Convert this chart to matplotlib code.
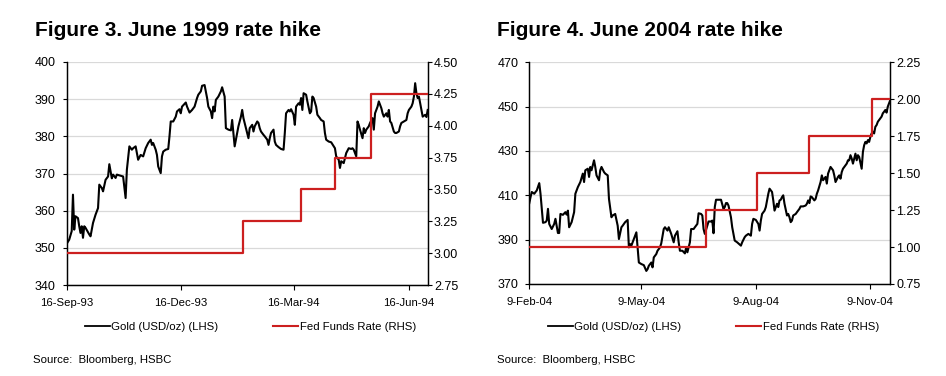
import numpy as np
import pandas as pd
import matplotlib
matplotlib.use('Agg')
import matplotlib.pyplot as plt
from matplotlib.lines import Line2D

plt.rcParams['font.family'] = ['Liberation Sans', 'DejaVu Sans']

# ---- Figure 3: June 1999 rate hike (1993/94 episode) ----
start93 = "1993-09-16"
end93 = "1994-07-01"
gold93_days = [0, 2, 4, 5, 6, 7, 9, 10, 11, 12, 13, 14, 15, 18, 19, 21, 23, 25, 26, 28,
               29, 31, 33, 34, 36, 37, 39, 40, 43, 45, 47, 48, 50, 52, 53, 55, 57, 59, 61, 63,
               65, 67, 68, 69, 71, 72, 73, 75, 76, 77, 79, 81, 82, 83, 85, 87, 88, 90, 91, 92,
               95, 96, 98, 100, 102, 104, 105, 107, 108, 110, 112, 113, 115, 116, 117, 118, 119, 121, 123, 124,
               126, 127, 129, 131, 132, 134, 135, 137, 139, 140, 141, 145, 146, 148, 149, 150, 152, 153, 154, 155,
               157, 158, 160, 161, 162, 163, 165, 166, 167, 169, 171, 173, 174, 175, 177, 178, 179, 181, 182, 183,
               185, 186, 187, 188, 189, 191, 192, 194, 195, 196, 197, 199, 200, 202, 203, 205, 206, 207, 209, 211,
               213, 214, 215, 217, 218, 219, 221, 222, 223, 225, 227, 228, 229, 231, 232, 233, 234, 236, 237, 238,
               239, 241, 242, 244, 245, 246, 248, 249, 251, 252, 253, 255, 256, 257, 258, 259, 261, 262, 263, 265,
               266, 267, 269, 271, 272, 273, 275, 276, 277, 278, 279, 280, 281, 282, 283, 284, 286, 287, 288]
gold93_vals = [351.1, 352.2, 354.5, 364.3, 354.9, 358.5, 358.0, 355.8, 354.0, 355.8, 352.7, 355.8, 355.4, 353.6, 353.1, 356.7, 358.9, 360.7, 367.0, 366.1,
               365.2, 368.3, 369.2, 372.5, 368.7, 369.7, 368.8, 369.7, 369.4, 369.2, 363.4, 371.0, 377.3, 376.4, 376.8, 377.3, 373.7, 375.0, 374.6, 376.8,
               378.2, 379.1, 377.7, 378.2, 376.4, 375.0, 371.9, 370.1, 374.6, 375.9, 376.4, 376.6, 380.0, 384.0, 384.0, 385.3, 386.7, 387.3, 386.2, 388.0,
               389.1, 388.0, 386.4, 387.1, 388.0, 390.3, 391.2, 392.1, 393.6, 393.8, 390.3, 388.0, 386.7, 384.9, 388.0, 386.7, 389.8, 390.7, 392.1, 393.2,
               390.7, 382.2, 381.8, 381.6, 384.4, 377.3, 379.1, 382.7, 385.3, 387.1, 384.9, 379.5, 382.2, 383.1, 381.3, 382.7, 384.0, 383.6, 382.2, 381.3,
               380.4, 380.0, 379.1, 377.7, 379.5, 380.9, 381.8, 378.6, 377.7, 377.1, 376.6, 376.4, 380.9, 386.2, 387.1, 386.7, 387.3, 385.8, 383.1, 388.0,
               388.9, 388.5, 390.3, 387.1, 391.6, 391.2, 389.4, 386.2, 386.7, 390.7, 390.3, 388.0, 385.8, 384.9, 384.4, 384.0, 380.9, 379.1, 378.6, 378.4,
               377.3, 376.8, 374.6, 373.7, 371.5, 373.3, 372.8, 374.2, 375.5, 376.8, 376.6, 376.8, 376.4, 374.6, 384.0, 383.1, 381.8, 379.5, 382.2, 380.9,
               381.8, 382.7, 383.6, 384.9, 381.8, 386.2, 388.0, 389.4, 387.6, 386.2, 385.3, 386.2, 385.3, 387.1, 384.0, 383.6, 381.3, 380.9, 380.9, 381.3,
               382.7, 383.6, 384.0, 384.4, 386.2, 387.1, 388.0, 388.9, 390.7, 394.3, 391.6, 390.3, 390.7, 388.9, 387.1, 385.3, 385.8, 385.2, 387.1]
fed93_dates = ["1993-09-16", "1994-02-04", "1994-03-22", "1994-04-18", "1994-05-17", "1994-07-01"]
fed93_rates = [3.00, 3.25, 3.50, 3.75, 4.25, 4.25]
xticks93 = ["1993-09-16", "1993-12-16", "1994-03-16", "1994-06-16"]

# ---- Figure 4: June 2004 rate hike ----
start04 = "2004-02-09"
end04 = "2004-11-25"
gold04_days = [0, 1, 2, 4, 5, 6, 8, 9, 11, 13, 14, 15, 16, 18, 20, 21, 23, 24, 25, 27,
               29, 30, 31, 32, 34, 36, 37, 39, 41, 43, 44, 45, 47, 48, 49, 50, 52, 53, 54, 56,
               57, 58, 60, 61, 63, 64, 66, 67, 69, 71, 72, 74, 75, 77, 79, 80, 81, 82, 84, 86,
               87, 88, 90, 92, 94, 95, 96, 98, 99, 100, 102, 103, 105, 106, 108, 109, 111, 112, 114, 116,
               117, 119, 120, 121, 123, 125, 126, 127, 129, 130, 132, 133, 135, 136, 138, 139, 140, 141, 143, 144,
               146, 147, 148, 149, 150, 152, 154, 155, 156, 157, 158, 159, 160, 162, 163, 164, 165, 167, 168, 170,
               171, 173, 174, 176, 178, 179, 180, 182, 184, 185, 186, 187, 189, 190, 191, 192, 193, 195, 196, 197,
               199, 200, 201, 202, 203, 204, 205, 207, 208, 209, 210, 211, 212, 214, 215, 217, 218, 220, 222, 223,
               224, 225, 226, 227, 229, 230, 231, 232, 234, 235, 236, 238, 239, 240, 241, 242, 244, 245, 246, 247,
               248, 249, 250, 251, 252, 254, 255, 256, 257, 258, 259, 260, 261, 262, 263, 264, 265, 267, 268, 269,
               270, 271, 272, 273, 274, 275, 276, 277, 278, 279, 280, 282, 283, 284, 285, 286, 287, 288, 289, 290]
gold04_vals = [406.5, 409.2, 411.5, 410.7, 411.5, 412.2, 415.5, 410.7, 397.6, 397.9, 398.6, 403.9, 397.1, 394.8, 397.1, 399.4, 393.0, 393.0, 401.6, 401.2,
               402.4, 401.3, 403.1, 395.6, 397.9, 402.4, 410.7, 413.7, 416.0, 419.8, 416.0, 421.3, 422.0, 418.3, 422.8, 421.3, 425.8, 422.8, 419.0, 416.8,
               421.3, 422.8, 420.5, 419.8, 419.0, 408.4, 400.1, 400.9, 401.6, 396.3, 390.3, 395.6, 396.3, 397.9, 398.9, 386.5, 388.0, 387.3, 390.3, 393.3,
               386.5, 379.7, 379.0, 378.5, 375.9, 376.7, 378.2, 379.7, 377.5, 382.0, 383.5, 385.0, 386.5, 388.3, 394.8, 395.6, 394.1, 395.6, 392.6, 388.8,
               391.8, 393.8, 388.8, 385.0, 385.0, 383.8, 386.5, 384.3, 388.8, 394.8, 394.8, 395.6, 397.1, 401.9, 401.6, 400.9, 394.8, 392.6, 396.3, 398.2,
               398.2, 398.6, 392.9, 404.7, 408.0, 408.0, 408.0, 405.9, 403.9, 404.7, 406.5, 406.5, 405.4, 400.1, 395.6, 392.6, 389.6, 388.8, 388.3, 387.3,
               388.8, 391.1, 391.8, 392.6, 391.8, 397.1, 399.4, 398.9, 397.1, 394.1, 398.6, 401.6, 403.1, 404.7, 407.7, 410.7, 413.0, 411.5, 407.7, 403.1,
               406.2, 404.7, 407.7, 408.0, 409.2, 410.0, 406.2, 400.9, 401.6, 400.1, 397.9, 398.6, 400.9, 401.6, 402.4, 403.9, 405.0, 405.0, 405.4, 406.2,
               407.7, 406.5, 409.5, 409.2, 407.7, 408.4, 410.7, 412.2, 416.0, 419.0, 416.8, 418.3, 415.3, 419.8, 421.3, 422.8, 421.3, 419.0, 416.0, 417.1,
               418.3, 419.0, 417.5, 420.5, 422.0, 423.5, 424.3, 425.8, 425.8, 428.1, 426.6, 424.3, 426.6, 428.8, 425.8, 428.1, 427.3, 422.0, 429.6, 432.6,
               434.1, 433.4, 434.9, 434.1, 436.4, 437.9, 438.7, 437.9, 440.9, 441.7, 443.2, 444.7, 445.5, 447.0, 447.7, 448.5, 447.3, 450.0, 451.5, 453.0]
fed04_dates = ["2004-02-09", "2004-06-30", "2004-08-10", "2004-09-21", "2004-11-10", "2004-11-25"]
fed04_rates = [1.00, 1.25, 1.50, 1.75, 2.00, 2.00]
xticks04 = ["2004-02-09", "2004-05-09", "2004-08-09", "2004-11-09"]

BLACK = "#000000"
RED = "#cc1f1f"
GRID = "#d9d9d9"
FS = 8.2

fig = plt.figure(figsize=(9.46, 3.76), dpi=100)


def panel(rect, title, title_x, start, end, gdays, gvals, fdates, frates, xticks,
          ylim, yticks, y2lim, y2ticks, y2fmt, leg_x, src_x):
    ax = fig.add_axes(rect)
    dates = pd.Timestamp(start) + pd.to_timedelta(gdays, unit="D")
    ax.plot(dates, gvals, color=BLACK, lw=1.5, zorder=3)
    ax.set_xlim(pd.Timestamp(start), pd.Timestamp(end))
    ax.set_ylim(*ylim)
    ax.set_yticks(yticks)
    ax.yaxis.grid(True, color=GRID, lw=0.9)
    ax.set_axisbelow(True)
    tdates = [pd.Timestamp(t) for t in xticks]
    ax.set_xticks(tdates)
    ax.set_xticklabels([f"{t.day}-{t:%b-%y}" for t in tdates])
    ax.spines['top'].set_visible(False)
    ax.tick_params(axis='y', direction='out', length=3, width=0.8, pad=5, labelsize=9)
    ax.tick_params(axis='x', direction='out', length=3.5, width=0.8, pad=6, labelsize=FS)

    ax2 = ax.twinx()
    ax2.step(pd.to_datetime(fdates), frates, where='post', color=RED, lw=1.6, zorder=4)
    ax2.set_ylim(*y2lim)
    ax2.set_yticks(y2ticks)
    ax2.set_yticklabels([y2fmt.format(v) for v in y2ticks])
    ax2.spines['top'].set_visible(False)
    ax2.tick_params(axis='y', direction='out', length=3, width=0.8, pad=1.5, labelsize=9)
    for a in (ax, ax2):
        for s in a.spines.values():
            s.set_linewidth(0.9)

    fig.text(title_x, 1 - 31 / 376, title, fontsize=15, fontweight='bold', va='center', ha='left')
    handles = [Line2D([], [], color=BLACK, lw=1.3), Line2D([], [], color=RED, lw=1.5)]
    fig.legend(handles, ["Gold (USD/oz) (LHS)", "Fed Funds Rate (RHS)"], ncol=2, frameon=False,
               loc='center', bbox_to_anchor=(leg_x, 1 - 327 / 376), fontsize=FS,
               handlelength=2.2, handletextpad=0.15, columnspacing=4.8)
    fig.text(src_x, 1 - 360 / 376, "Source:  Bloomberg, HSBC", fontsize=8.2, va='center', ha='left')
    return ax


panel([66.7 / 946, 1 - 285 / 376, (427.7 - 66.7) / 946, (285 - 62) / 376],
      "Figure 3. June 1999 rate hike", 35 / 946, start93, end93, gold93_days, gold93_vals,
      fed93_dates, fed93_rates, xticks93, (340, 400), np.arange(340, 401, 10),
      (2.75, 4.5), np.arange(2.75, 4.51, 0.25), "{:.2f}", 250.5 / 946, 33 / 946)

panel([529.3 / 946, 1 - 284 / 376, (890.3 - 529.3) / 946, (284 - 62.3) / 376],
      "Figure 4. June 2004 rate hike", 497 / 946, start04, end04, gold04_days, gold04_vals,
      fed04_dates, fed04_rates, xticks04, (370, 470), np.arange(370, 471, 20),
      (0.75, 2.25), np.arange(0.75, 2.26, 0.25), "{:.2f}", 713.5 / 946, 497 / 946)

fig.savefig("out.png", dpi=100)
